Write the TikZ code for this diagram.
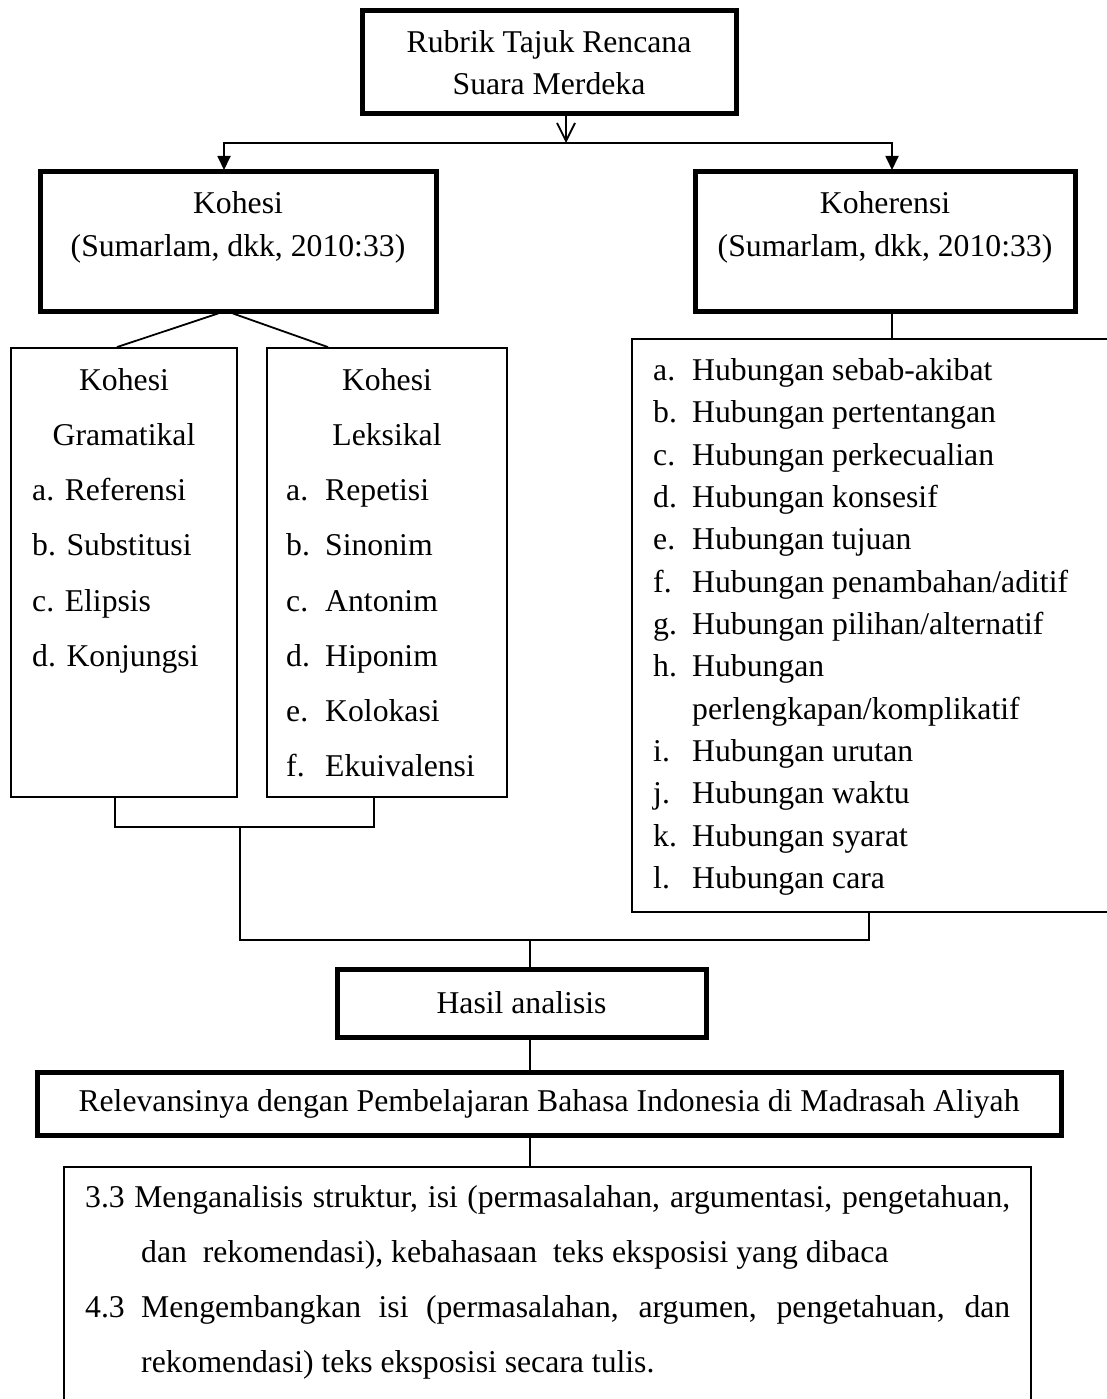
\documentclass[tikz,border=0pt]{standalone}
\usepackage{fontspec}
\setmainfont{Liberation Serif}
\usetikzlibrary{arrows.meta}

\tikzset{
  thickbox/.style={draw, line width=5pt, inner sep=0pt, align=center},
  thinbox/.style={draw, line width=1.8pt, inner sep=0pt},
  wire/.style={line width=1.8pt},
  ltxt/.style={inner sep=0pt, anchor=base west},
  ctxt/.style={inner sep=0pt, anchor=base},
}

\begin{document}
\begin{tikzpicture}[x=1pt,y=1pt,font=\fontsize{31.7}{42}\selectfont]
\useasboundingbox (0,0) rectangle (1107,-1399);
\clip (0,0) rectangle (1107,-1399);

\node [thickbox, minimum width=374pt, minimum height=103pt] (rubrik) at (549,-62.5) {Rubrik Tajuk Rencana\\Suara Merdeka};
\node [thickbox, minimum width=396pt, minimum height=139pt] (kohesi) at (238,-241.5) {};
\node [thickbox, minimum width=380pt, minimum height=139pt] (koher) at (885,-241.5) {};
\node [thinbox, minimum width=226pt, minimum height=449pt] (gram) at (124,-572.5) {};
\node [thinbox, minimum width=240pt, minimum height=449pt] (leks) at (387,-572.5) {};
\node [thinbox, minimum width=568pt, minimum height=573pt] (list) at (916,-625.5) {};
\node [thickbox, minimum width=369pt, minimum height=68pt] (hasil) at (521.5,-1003) {Hasil analisis};
\node [thickbox, minimum width=1024pt, minimum height=63pt] (relev) at (549,-1103.5) {Relevansinya dengan Pembelajaran Bahasa Indonesia di Madrasah Aliyah};
\node [thinbox, minimum width=967pt, minimum height=333pt] (kd) at (547.5,-1333.5) {};

\node [ctxt] (kh1) at (238,-213) {Kohesi};
\node [ctxt] (kh2) at (238,-256) {(Sumarlam, dkk, 2010:33)};
\node [ctxt] (ko1) at (885,-213) {Koherensi};
\node [ctxt] (ko2) at (885,-256) {(Sumarlam, dkk, 2010:33)};

\node [ctxt] (g1) at (124,-390) {Kohesi};
\node [ctxt] (g2) at (124,-445) {Gramatikal};
\node [ltxt] (ga) at (32,-500) {a. Referensi};
\node [ltxt] (gb) at (32,-555) {b. Substitusi};
\node [ltxt] (gc) at (32,-611) {c. Elipsis};
\node [ltxt] (gd) at (32,-666) {d. Konjungsi};

\node [ctxt] (l1) at (387,-390) {Kohesi};
\node [ctxt] (l2) at (387,-445) {Leksikal};
\node [ltxt] (la) at (286,-500) {a.};
\node [ltxt] (la2) at (325,-500) {Repetisi};
\node [ltxt] (lb) at (286,-555) {b.};
\node [ltxt] (lb2) at (325,-555) {Sinonim};
\node [ltxt] (lc) at (286,-611) {c.};
\node [ltxt] (lc2) at (325,-611) {Antonim};
\node [ltxt] (ld) at (286,-666) {d.};
\node [ltxt] (ld2) at (325,-666) {Hiponim};
\node [ltxt] (le) at (286,-721) {e.};
\node [ltxt] (le2) at (325,-721) {Kolokasi};
\node [ltxt] (lf) at (286,-776) {f.};
\node [ltxt] (lf2) at (325,-776) {Ekuivalensi};

\node [ltxt] (ha) at (653,-380) {a.};
\node [ltxt] (ha2) at (692,-380) {Hubungan sebab-akibat};
\node [ltxt] (hb) at (653,-422) {b.};
\node [ltxt] (hb2) at (692,-422) {Hubungan pertentangan};
\node [ltxt] (hc) at (653,-465) {c.};
\node [ltxt] (hc2) at (692,-465) {Hubungan perkecualian};
\node [ltxt] (hd) at (653,-507) {d.};
\node [ltxt] (hd2) at (692,-507) {Hubungan konsesif};
\node [ltxt] (he) at (653,-549) {e.};
\node [ltxt] (he2) at (692,-549) {Hubungan tujuan};
\node [ltxt] (hf) at (653,-592) {f.};
\node [ltxt] (hf2) at (692,-592) {Hubungan penambahan/aditif};
\node [ltxt] (hg) at (653,-634) {g.};
\node [ltxt] (hg2) at (692,-634) {Hubungan pilihan/alternatif};
\node [ltxt] (hh) at (653,-676) {h.};
\node [ltxt] (hh2) at (692,-676) {Hubungan};
\node [ltxt] (hh3) at (692,-719) {perlengkapan/komplikatif};
\node [ltxt] (hi) at (653,-761) {i.};
\node [ltxt] (hi2) at (692,-761) {Hubungan urutan};
\node [ltxt] (hj) at (653,-803) {j.};
\node [ltxt] (hj2) at (692,-803) {Hubungan waktu};
\node [ltxt] (hk) at (653,-846) {k.};
\node [ltxt] (hk2) at (692,-846) {Hubungan syarat};
\node [ltxt] (hl) at (653,-888) {l.};
\node [ltxt] (hl2) at (692,-888) {Hubungan cara};

\node [ltxt] (kd1) at (85,-1207) {\hbox to 925pt{3.3 Menganalisis struktur, isi (permasalahan, argumentasi, pengetahuan,}};
\node [ltxt] (kd2) at (141,-1262) {dan\ \ rekomendasi), kebahasaan\ \ teks eksposisi yang dibaca};
\node [ltxt] (kd3) at (85,-1317) {4.3};
\node [ltxt] (kd4) at (141,-1317) {\hbox to 869pt{Mengembangkan isi (permasalahan, argumen, pengetahuan, dan}};
\node [ltxt] (kd5) at (141,-1372) {rekomendasi) teks eksposisi secara tulis.};

\coordinate (split) at (566,-143);
\coordinate (kin) at (224,-170);
\coordinate (hin) at (892,-170);
\coordinate (lj) at (240,-826);
\coordinate (mid) at (530,-940);

\draw [wire, -{Straight Barb[length=18pt,width=18pt,line width=1.8pt]}] (rubrik.south -| split) -- (split);
\draw [wire, -{Triangle[length=14pt,width=13pt]}] (split) -| (kin);
\draw [wire, -{Triangle[length=14pt,width=13pt]}] (split) -| (hin);
\draw [wire] ([xshift=-20pt]kohesi.south) -- ([xshift=-7pt]gram.north);
\draw [wire] ([xshift=-5pt]kohesi.south) -- ([xshift=-59pt]leks.north);
\draw [wire] (koher.south -| hin) -- (list.north -| hin);
\draw [wire] ([xshift=-9pt]gram.south) -- ++(0,-29) -| ([xshift=-13pt]leks.south);
\draw [wire] (lj) |- (mid);
\draw [wire] ([xshift=-47pt]list.south) |- (mid);
\draw [wire] (mid) -- (hasil.north -| mid);
\draw [wire] (hasil.south -| mid) -- (relev.north -| mid);
\draw [wire] (relev.south -| mid) -- (kd.north -| mid);
\end{tikzpicture}
\end{document}
